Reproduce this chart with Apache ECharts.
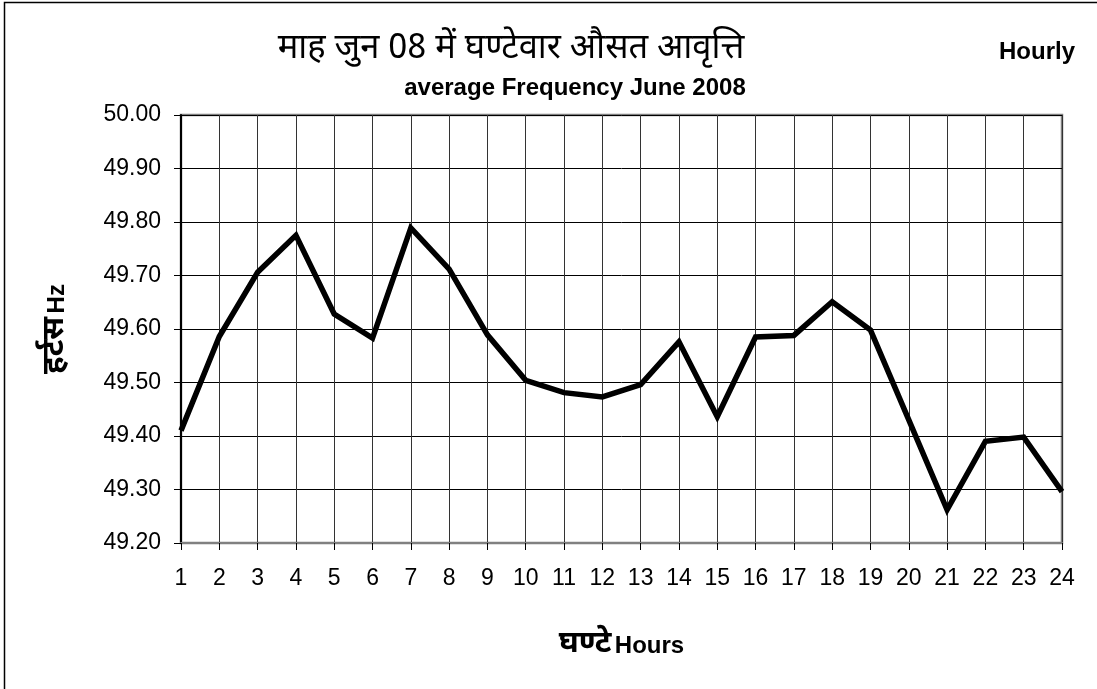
<!DOCTYPE html>
<html>
<head>
<meta charset="utf-8">
<title>Hourly average Frequency June 2008</title>
<script src="https://cdn.jsdelivr.net/npm/echarts@6/dist/echarts.min.js"></script>
<style>
  html, body { margin: 0; padding: 0; background: #fff; }
  #chart { width: 1097px; height: 689px; }
</style>
</head>
<body>
<div id="chart"></div>
<script>
// hours 1..24
const hours = ["1", "2", "3", "4", "5", "6", "7", "8", "9", "10", "11", "12",
  "13", "14", "15", "16", "17", "18", "19", "20", "21", "22", "23", "24"];
// average frequency in Hz
const frequency = [49.41, 49.586, 49.706, 49.775, 49.628, 49.583, 49.789, 49.712,
  49.589, 49.504, 49.481, 49.473, 49.496, 49.576, 49.436, 49.585,
  49.588, 49.651, 49.598, 49.43, 49.262, 49.39, 49.398, 49.296];
const yMin = 49.2;
const yMax = 50.0;
const yStep = 0.1;

const deva = "'Noto Sans Devanagari', 'Noto Serif Devanagari', 'Lohit Devanagari', 'Noto Sans', sans-serif";
const latin = "'Liberation Sans', Arial, sans-serif";

const chart = echarts.init(document.getElementById("chart"));
chart.setOption({
  backgroundColor: "#fff",
  animation: false,
  title: [
    {
      text: "माह जुन 08 में घण्टेवार औसत आवृत्ति",
      left: 506,
      top: 29,
      textAlign: "center",
      textStyle: { fontFamily: deva, fontSize: 34.5, fontWeight: "normal", color: "#000" }
    },
    {
      text: "average Frequency June 2008",
      left: 570,
      top: 71,
      textAlign: "center",
      textStyle: { fontFamily: latin, fontSize: 24, fontWeight: "bold", color: "#000" }
    },
    {
      text: "Hourly",
      left: 1032,
      top: 35,
      textAlign: "center",
      textStyle: { fontFamily: latin, fontSize: 24, fontWeight: "bold", color: "#000" }
    }
  ],
  graphic: [
    {
      type: "rect",
      silent: true,
      shape: { x: 4.5, y: 2.5, width: 1200, height: 800 },
      style: { fill: null, stroke: "#000", lineWidth: 1.5 }
    }
  ],
  grid: {
    left: 181,
    right: 35,
    top: 115,
    bottom: 146,
    show: true,
    borderColor: "#808080",
    borderWidth: 2.5
  },
  xAxis: {
    type: "category",
    data: hours,
    boundaryGap: false,
    name: "{hi|घण्टे} {en|Hours}",
    nameLocation: "middle",
    nameGap: 88,
    nameTextStyle: {
      rich: {
        hi: { fontFamily: deva, fontSize: 31, fontWeight: "bold", color: "#000" },
        en: { fontFamily: latin, fontSize: 24, fontWeight: "bold", color: "#000" }
      }
    },
    axisLine: { lineStyle: { color: "#808080", width: 2 } },
    axisTick: { show: true, inside: false, length: 7, lineStyle: { color: "#000", width: 1 } },
    axisLabel: { fontFamily: latin, fontSize: 23, color: "#000", margin: 24 },
    splitLine: { show: true, lineStyle: { color: "#333", width: 1 } }
  },
  yAxis: {
    type: "value",
    min: yMin,
    max: yMax,
    interval: yStep,
    name: "{hi|हर्टस} {en|Hz}",
    nameLocation: "middle",
    nameGap: 108,
    nameRotate: 90,
    nameTextStyle: {
      rich: {
        hi: { fontFamily: deva, fontSize: 31, fontWeight: "bold", color: "#000" },
        en: { fontFamily: latin, fontSize: 24, fontWeight: "bold", color: "#000" }
      }
    },
    axisLine: { show: true, lineStyle: { color: "#000", width: 2 } },
    axisTick: { show: true, length: 7, lineStyle: { color: "#000", width: 1 } },
    axisLabel: {
      fontFamily: latin,
      fontSize: 23,
      color: "#000",
      margin: 20,
      formatter: function (v) { return v.toFixed(2); }
    },
    splitLine: { show: true, lineStyle: { color: "#000", width: 1 } }
  },
  series: [
    {
      name: "Frequency",
      type: "line",
      data: frequency,
      showSymbol: false,
      symbol: "none",
      lineStyle: { color: "#000", width: 5.5, join: "miter" },
      z: 5
    }
  ]
});
</script>
</body>
</html>
